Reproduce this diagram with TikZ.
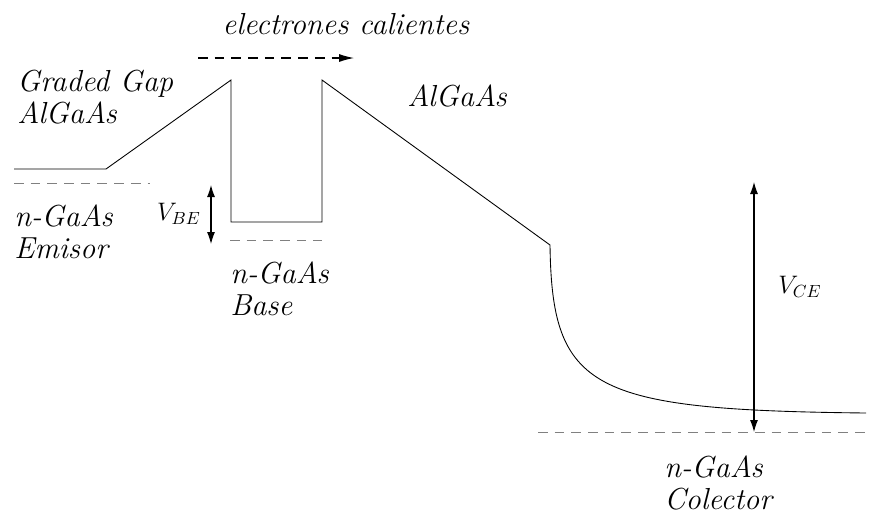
\documentclass[tikz,border=0pt]{standalone}
\usepackage{amsmath,amssymb}
\usepackage{tikz}
\usetikzlibrary{positioning,arrows.meta}

\begin{document}
\begin{tikzpicture}[x=0.02cm,y=-0.02cm,
	banda/.style={black,line width=0.5pt},
	nivel/.style={gray,dash pattern=on 5.5pt off 4pt,line width=0.5pt},
	flecha/.style={{Latex[length=2.4mm,width=1.6mm]}-{Latex[length=2.4mm,width=1.6mm]},line width=0.6pt},
	etiqueta/.style={font=\fontsize{17.3}{18.2}\selectfont\itshape,align=left,inner sep=0pt}]
	\useasboundingbox (0,0) rectangle (869,515);
	% perfil de la banda de conduccion
	\draw [banda] (14,169)--(106,169)--(231,80)--(231,222)--(322,222)--(322,80)--(550,245)
		.. controls (552,390) and (590,410) .. (866,413);
	% niveles de Fermi
	\draw [nivel] (14,183)--(150,183);
	\draw [nivel] (230,240)--(322,240);
	\draw [nivel] (538,432)--(866,432);
	% electrones calientes
	\coordinate (ini) at (198,58);
	\coordinate (fin) at (354,58);
	\draw [black,dash pattern=on 5.5pt off 4pt,-{Latex[length=3mm,width=1.6mm]},line width=0.6pt] (ini)--(fin);
	\node [etiqueta] (calientes) at (346,24) {electrones calientes};
	% tensiones
	\coordinate (be1) at (211,185);
	\coordinate (be2) at (211,244);
	\draw [flecha] (be1)--(be2);
	\node (vbe) at (179,214) {\Large $V_{BE}$};
	\coordinate (ce1) at (754,182);
	\coordinate (ce2) at (754,432);
	\draw [flecha] (ce1)--(ce2);
	\node (vce) at (800,287) {\Large $V_{CE}$};
	% materiales
	\node [etiqueta,anchor=west] (graded) at (17,97) {Graded Gap\\AlGaAs};
	\node [etiqueta] (algaas) at (457,96) {AlGaAs};
	\node [etiqueta,anchor=west] (emisor) at (14,232) {n-GaAs\\Emisor};
	\node [etiqueta,anchor=west] (base) at (230,289) {n-GaAs\\Base};
	\node [etiqueta,anchor=west] (colector) at (664,483) {n-GaAs\\Colector};
\end{tikzpicture}
\end{document}
